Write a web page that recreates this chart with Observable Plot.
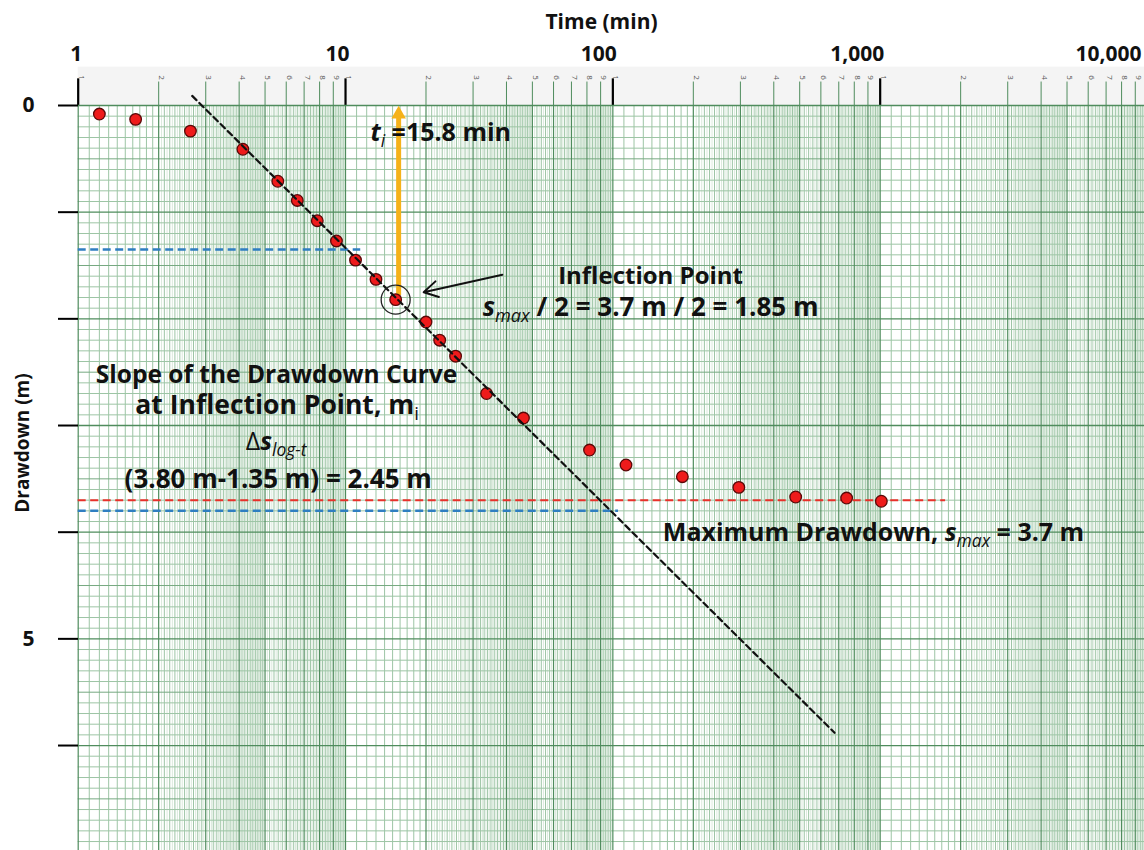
<!DOCTYPE html>
<html>
<head>
<meta charset="utf-8">
<script src="https://cdn.jsdelivr.net/npm/d3@7"></script>
<script src="https://cdn.jsdelivr.net/npm/@observablehq/plot@0.6"></script>
<style>
  html, body { margin: 0; padding: 0; background: #ffffff; }
  #chart svg { display: block; }
</style>
</head>
<body>
<div id="chart"></div>
<script>
// ---- data ----
const timeMin = [1.2, 1.64, 2.63, 4.13, 5.58, 6.6, 7.84, 9.25, 10.9, 13, 15.4, 20, 22.5, 25.8, 33.7, 46.3, 81.8, 112, 182, 296, 483, 749, 1010];
const drawdownM = [0.08, 0.13, 0.24, 0.41, 0.71, 0.89, 1.08, 1.27, 1.45, 1.63, 1.82, 2.03, 2.2, 2.35, 2.7, 2.93, 3.23, 3.37, 3.48, 3.58, 3.67, 3.68, 3.71];
const fitLineT = [2.67, 675];
const fitLineS = [-0.09, 5.88];
const sMax = 3.7;
const sMaxLineEndT = 1757;
const slopeLevelsS = [1.35, 3.80];
const slopeLevelsEndT = [11.4, 105];
const tInflection = 15.8;
const inflectionIndex = 10;
const decadeTicks = [1, 10, 100, 1000, 10000];
const decadeLabels = ["1", "10", "100", "1,000", "10,000"];
const yTicks = [0, 1, 2, 3, 4, 5, 6];
const yLabelled = [0, 5];

// annotation texts (rich formatting applied after rendering)
const notes = [
  {key: "ti =15.8 min", t: 22.7, s: 0.256, fs: 25},
  {key: "Inflection Point", t: 138.4, s: 1.597, fs: 24},
  {key: "smax / 2 = 3.7 m / 2 = 1.85 m", t: 138.4, s: 1.897, fs: 26},
  {key: "Slope of the Drawdown Curve", t: 5.52, s: 2.525, fs: 24.5},
  {key: "at Inflection Point, mi", t: 5.55, s: 2.815, fs: 26.5},
  {key: "Δslog-t", t: 5.5, s: 3.15, fs: 25},
  {key: "(3.80 m-1.35 m) = 2.45 m", t: 5.6, s: 3.509, fs: 26},
  {key: "Maximum Drawdown, smax = 3.7 m", t: 944, s: 4.006, fs: 25}
];
const rich = {
  "ti =15.8 min": [{t: "t", it: 1}, {t: "i", it: 1, sub: 1, w: "normal"}, {t: " =15.8 min"}],
  "smax / 2 = 3.7 m / 2 = 1.85 m": [{t: "s", it: 1}, {t: "max", it: 1, sub: 1, w: "normal"}, {t: " / 2 = 3.7 m / 2 = 1.85 m"}],
  "at Inflection Point, mi": [{t: "at Inflection Point, m"}, {t: "i", sub: 1, w: "normal"}],
  "Δslog-t": [{t: "Δ", w: "normal"}, {t: "s", it: 1}, {t: "log-t", it: 1, sub: 1, w: "normal"}],
  "Maximum Drawdown, smax = 3.7 m": [{t: "Maximum Drawdown, "}, {t: "s", it: 1}, {t: "max", it: 1, sub: 1, w: "normal"}, {t: " = 3.7 m"}]
};

// ---- tables built from the arrays ----
const points = timeMin.map((t, i) => ({t, s: drawdownM[i]}));
const fitLine = fitLineT.map((t, i) => ({t, s: fitLineS[i]}));
const slopeLevels = slopeLevelsS.map((s, i) => ({s, t2: slopeLevelsEndT[i]}));

// graph-paper rulings
const vMajor = [], vMid = [], vLight = [], vTop = [], topDigits = [];
for (let k = 0; k < 4; k++) {
  const base = Math.pow(10, k);
  for (let i = 100; i < 1000; i += 5) {
    const m = i / 100, v = m * base;
    if (i % 100 === 0) { vMajor.push(v); vTop.push(v); topDigits.push({v, d: String(i / 100)}); }
    else if (m < 2) { if (i % 10 === 0) vMid.push(v); }
    else if (m < 5) { if (i % 10 === 0) vMid.push(v); else vLight.push(v); }
    else { if (i % 20 === 0) vMid.push(v); else if (i % 10 === 0) vLight.push(v); }
  }
}
vMajor.push(10000);
const hMajor = [], hHalf = [], hMinor = [];
for (let i = 0; i <= 70; i++) {
  const v = i / 10;
  if (i % 10 === 0) hMajor.push(v); else if (i % 5 === 0) hHalf.push(v); else hMinor.push(v);
}

const green = {major: "#4f8c5d", half: "#76a981", mid: "#9dc5a5", light: "#dbeadd"};

const chart = Plot.plot({
  width: 1144,
  height: 850,
  marginLeft: 78, marginRight: 0, marginTop: 105, marginBottom: 0,
  x: {type: "log", domain: [1, 10000], range: [77.7, 1147], axis: null},
  y: {domain: [0, 7], range: [105, 851.7], axis: null},
  style: {fontFamily: "'Open Sans', sans-serif", fontWeight: "bold", background: "#ffffff", color: "#111"},
  marks: [
    // top strip of the paper
    Plot.rect([0], {x1: 1, x2: 10000, y1: -0.36, y2: 0, fill: "#f4f4f4"}),
    Plot.ruleX(vTop, {y1: 0, y2: -0.22, stroke: green.major, strokeWidth: 1}),
    Plot.ruleX(decadeTicks, {y1: 0, y2: -0.25, stroke: "#000", strokeWidth: 2.2}),
    Plot.text(topDigits, {x: "v", text: "d", frameAnchor: "top", lineAnchor: "middle", dy: -28, dx: 3, rotate: 90, fontSize: 8, fontWeight: "normal", fill: "#555"}),
    // grid
    Plot.ruleX(vLight, {y1: 0, y2: 7, stroke: green.light, strokeWidth: 1}),
    Plot.ruleY(hMinor, {x1: 1, x2: 10000, stroke: green.mid, strokeWidth: 1}),
    Plot.ruleX(vMid, {y1: 0, y2: 7, stroke: green.mid, strokeWidth: 1}),
    Plot.ruleY(hHalf, {x1: 1, x2: 10000, stroke: green.half, strokeWidth: 1}),
    Plot.ruleX(vMajor, {y1: 0, y2: 7, stroke: green.major, strokeWidth: 1.2}),
    Plot.ruleY(hMajor, {x1: 1, x2: 10000, stroke: green.major, strokeWidth: 1.3}),
    // reference levels
    Plot.ruleY([sMax], {x1: 1, x2: sMaxLineEndT, stroke: "#e8302a", strokeWidth: 2, strokeDasharray: "8,4.5"}),
    Plot.ruleY(slopeLevels, {y: "s", x1: 1, x2: "t2", stroke: "#2f7ec1", strokeWidth: 2.5, strokeDasharray: "8,4.5"}),
    // orange arrow at t_i
    Plot.ruleX([tInflection], {y1: points[inflectionIndex].s - 0.04, y2: 0.1, stroke: "#f5b21a", strokeWidth: 5}),
    Plot.dot([tInflection], {x: d => d, y: 0, dy: 8.7, symbol: "triangle", r: 5.4, fill: "#f5b21a", stroke: "none"}),
    // data
    Plot.dot(points, {x: "t", y: "s", r: 5.8, fill: "#ee1b1b", stroke: "#5a0808", strokeWidth: 1.3}),
    Plot.line(fitLine, {x: "t", y: "s", stroke: "#111", strokeWidth: 2.2, strokeDasharray: "6,4"}),
    Plot.dot([points[inflectionIndex]], {x: "t", y: "s", r: 14.5, fill: "none", stroke: "#222", strokeWidth: 1.3}),
    Plot.arrow([0], {x1: 38.6, y1: 1.587, x2: 19.6, y2: 1.75, stroke: "#111", strokeWidth: 2, headLength: 12}),
    // axes
    Plot.axisY({ticks: yTicks, label: null, tickSize: 20, tickPadding: 24, strokeWidth: 2, stroke: "#000", tickFormat: d => yLabelled.includes(d) ? String(d) : "", fontSize: 21}),
    Plot.text(decadeTicks.slice(0, 4), {x: d => d, text: (d, i) => decadeLabels[i], frameAnchor: "top", lineAnchor: "middle", textAnchor: "end", dx: 4, dy: -51, fontSize: 21}),
    Plot.text([decadeLabels[4]], {frameAnchor: "top-right", lineAnchor: "middle", textAnchor: "end", dx: -3, dy: -51, fontSize: 21}),
    Plot.text(["Time (min)"], {frameAnchor: "top", lineAnchor: "middle", textAnchor: "middle", dx: -10, dy: -83, fontSize: 21}),
    Plot.text(["Drawdown (m)"], {frameAnchor: "left", lineAnchor: "middle", textAnchor: "middle", rotate: -90, dx: -56, dy: -35, fontSize: 19}),
    // annotations
    Plot.text(notes, {x: "t", y: "s", text: "key", fontSize: "fs", textAnchor: "middle", lineAnchor: "middle", fill: "#111"})
  ]
});

// apply italic / subscript formatting to annotation texts
const NS = "http://www.w3.org/2000/svg";
chart.querySelectorAll("text").forEach(el => {
  const segs = rich[el.textContent];
  if (!segs) return;
  el.textContent = "";
  let shift = 0;
  for (const s of segs) {
    const ts = document.createElementNS(NS, "tspan");
    ts.textContent = s.t;
    if (s.it) ts.setAttribute("font-style", "italic");
    if (s.w) ts.setAttribute("font-weight", s.w);
    if (s.sub) ts.setAttribute("font-size", "70%");
    const target = s.sub ? 6 : 0;
    if (target !== shift) { ts.setAttribute("dy", target - shift); shift = target; }
    el.appendChild(ts);
  }
});

document.getElementById("chart").appendChild(chart);
</script>
</body>
</html>
